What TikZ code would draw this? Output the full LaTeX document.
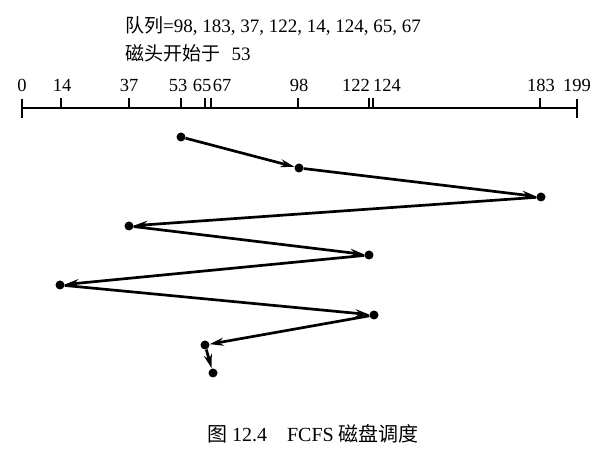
\documentclass[tikz,border=0pt]{standalone}
\usepackage{fontspec}
\setmainfont{Liberation Serif}
\newfontfamily\cjk{Noto Sans CJK SC}
\usetikzlibrary{arrows.meta}
\begin{document}
\begin{tikzpicture}[x=1pt,y=-1pt,
 dot/.style={circle,fill=black,inner sep=0pt,minimum size=9pt},
 seek/.style={line width=2.7pt,-{Stealth[length=14pt,width=8pt]}},
 tickline/.style={line width=1.4pt},
 lab/.style={font=\fontsize{18.5}{20}\selectfont,inner sep=0pt,anchor=base},
 txt/.style={font=\fontsize{19}{22}\selectfont,inner sep=0pt,anchor=base west}]
\useasboundingbox[fill=white] (0,0) rectangle (606,465);
% header text
\node[txt] (queue) at (125,33) {{\cjk 队列}=98, 183, 37, 122, 14, 124, 65, 67};
\node[txt] (head) at (125,61) {{\cjk 磁头开始于}\hspace{0.6em}53};
% axis
\draw[tickline] (22,108) -- (577,108);
\draw[tickline] (22,99) -- (22,118);
\draw[tickline] (577,99) -- (577,118);
\foreach \x in {61,129,181,205,211,298,369,373,540}
  \draw[tickline] (\x,98) -- (\x,108);
\node[lab] (l0) at (22,92) {0};
\node[lab] (l14) at (62,92) {14};
\node[lab] (l37) at (129,92) {37};
\node[lab] (l53) at (178,92) {53};
\node[lab] (l65) at (202,92) {65};
\node[lab] (l67) at (222,92) {67};
\node[lab] (l98) at (299,92) {98};
\node[lab] (l122) at (356,92) {122};
\node[lab] (l124) at (387,92) {124};
\node[lab] (l183) at (541,92) {183};
\node[lab] (l199) at (577,92) {199};
% service points
\node[dot] (p53) at (181,137) {};
\node[dot] (p98) at (299,168) {};
\node[dot] (p183) at (541,197) {};
\node[dot] (p37) at (129,226) {};
\node[dot] (p122) at (369,255) {};
\node[dot] (p14) at (60,285) {};
\node[dot] (p124) at (374,315) {};
\node[dot] (p65) at (205,345) {};
\node[dot] (p67) at (213,373) {};
\draw[seek] (p53) -- (p98);
\draw[seek] (p98) -- (p183);
\draw[seek] (p183) -- (p37);
\draw[seek] (p37) -- (p122);
\draw[seek] (p122) -- (p14);
\draw[seek] (p14) -- (p124);
\draw[seek] (p124) -- (p65);
\draw[seek] (p65) -- (p67);
% caption
\node[font=\fontsize{20}{24}\selectfont,inner sep=0pt,anchor=base] (cap) at (313,442) {{\cjk 图} 12.4\hspace{1em}FCFS {\cjk 磁盘调度}};
\end{tikzpicture}
\end{document}
